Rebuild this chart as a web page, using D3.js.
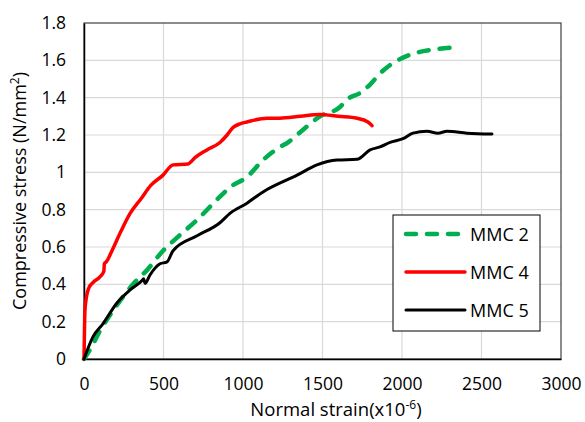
<!DOCTYPE html>
<html>
<head>
<meta charset="utf-8">
<script src="https://cdn.jsdelivr.net/npm/d3@7"></script>
<style>
  body { margin: 0; background: #fff; }
  text { font-family: "Open Sans", "Liberation Sans", sans-serif; fill: #000; }
</style>
</head>
<body>
<div id="chart"></div>
<script>
// strain (x10^-6), stress (N/mm2)
var mmc2 = [[0,0],[38,0.05],[100,0.15],[200,0.28],[308,0.40],[400,0.48],[497,0.58],[585,0.65],[711,0.745],[855,0.87],[918,0.92],[1025,0.975],[1126,1.066],[1233,1.136],[1277,1.157],[1380,1.23],[1484,1.30],[1610,1.35],[1654,1.39],[1736,1.425],[1799,1.47],[1862,1.53],[1943,1.585],[2069,1.635],[2220,1.66],[2352,1.67]];
var mmc4 = [[0,0],[2,0.1],[4,0.2],[6,0.26],[15,0.33],[30,0.38],[57,0.41],[100,0.44],[125,0.47],[128,0.51],[140,0.52],[176,0.58],[230,0.68],[290,0.78],[360,0.86],[420,0.93],[497,0.985],[560,1.04],[654,1.045],[700,1.08],[773,1.12],[855,1.16],[900,1.2],[937,1.24],[981,1.26],[1025,1.27],[1150,1.29],[1232,1.29],[1360,1.30],[1484,1.31],[1600,1.30],[1717,1.29],[1786,1.27],[1811,1.25]];
var mmc5 = [[0,0],[57,0.12],[120,0.19],[207,0.30],[290,0.37],[365,0.42],[375,0.43],[384,0.405],[415,0.45],[478,0.51],[522,0.52],[560,0.58],[711,0.66],[855,0.73],[918,0.78],[1025,0.835],[1126,0.895],[1340,0.985],[1465,1.04],[1591,1.066],[1717,1.07],[1799,1.12],[1862,1.136],[1925,1.16],[2006,1.18],[2069,1.21],[2157,1.22],[2226,1.21],[2283,1.22],[2409,1.21],[2566,1.205]];

var xTicks = [0,500,1000,1500,2000,2500,3000];
var yTicks = [0,0.2,0.4,0.6,0.8,1,1.2,1.4,1.6,1.8];

var series = [
  {name: "MMC 2", data: mmc2, color: "#00b050", width: 4.5, dash: "10,11"},
  {name: "MMC 4", data: mmc4, color: "#ff0000", width: 3.5, dash: null},
  {name: "MMC 5", data: mmc5, color: "#000000", width: 3, dash: null}
];

var W = 585, H = 422;
var m = {left: 84, top: 23, right: 24, bottom: 63};

var svg = d3.select("#chart").append("svg")
  .attr("width", W).attr("height", H);

var x = d3.scaleLinear().domain([0, 3000]).range([m.left, W - m.right]);
var y = d3.scaleLinear().domain([0, 1.8]).range([H - m.bottom, m.top]);

// gridlines
svg.append("g").selectAll("line.gx")
  .data(xTicks.slice(1, -1)).enter().append("line")
  .attr("x1", d => x(d)).attr("x2", d => x(d))
  .attr("y1", y(0)).attr("y2", y(1.8))
  .attr("stroke", "#d9d9d9").attr("stroke-width", 1.2);
svg.append("g").selectAll("line.gy")
  .data(yTicks.slice(1, -1)).enter().append("line")
  .attr("y1", d => y(d)).attr("y2", d => y(d))
  .attr("x1", x(0)).attr("x2", x(3000))
  .attr("stroke", "#d9d9d9").attr("stroke-width", 1.2);

// plot border
svg.append("rect")
  .attr("x", x(0)).attr("y", y(1.8))
  .attr("width", x(3000) - x(0)).attr("height", y(0) - y(1.8))
  .attr("fill", "none").attr("stroke", "#404040").attr("stroke-width", 1.2);

// axes
var xAxis = svg.append("g").attr("transform", "translate(0," + y(0) + ")")
  .call(d3.axisBottom(x).tickValues(xTicks).tickSize(0).tickPadding(19).tickFormat(d3.format("d")));
var yAxis = svg.append("g").attr("transform", "translate(" + x(0) + ",0)")
  .call(d3.axisLeft(y).tickValues(yTicks).tickSize(0).tickPadding(18).tickFormat(d => d === 0 || d === 1 ? d : d.toFixed(1)));
[xAxis, yAxis].forEach(function(a) {
  a.select(".domain").attr("stroke", "#000").attr("stroke-width", 1.5);
  a.selectAll("text").style("font-size", "17.5px").attr("fill", "#000");
});

// lines
var line = d3.line().x(d => x(d[0])).y(d => y(d[1])).curve(d3.curveMonotoneX);
series.forEach(function(s) {
  svg.append("path").datum(s.data)
    .attr("d", line)
    .attr("fill", "none")
    .attr("stroke", s.color)
    .attr("stroke-width", s.width)
    .attr("stroke-linejoin", "round")
    .attr("stroke-linecap", "round")
    .attr("stroke-dasharray", s.dash);
});

// axis titles
var xt = svg.append("text").attr("x", 336).attr("y", 416)
  .attr("text-anchor", "middle").style("font-size", "18.5px");
xt.append("tspan").text("Normal strain(x10");
xt.append("tspan").attr("dy", -7).style("font-size", "12px").text("-6");
xt.append("tspan").attr("dy", 7).text(")");

var yt = svg.append("text")
  .attr("transform", "translate(26," + y(0.9) + ") rotate(-90)")
  .attr("text-anchor", "middle").style("font-size", "18px");
yt.append("tspan").text("Compressive stress (N/mm");
yt.append("tspan").attr("dy", -7).style("font-size", "12px").text("2");
yt.append("tspan").attr("dy", 7).text(")");

// legend
var lg = svg.append("g").attr("transform", "translate(393,215)");
lg.append("rect").attr("width", 147).attr("height", 116)
  .attr("fill", "#fff").attr("stroke", "#000").attr("stroke-width", 1);
series.forEach(function(s, i) {
  var yy = 19 + i * 38;
  lg.append("line").attr("x1", 13).attr("x2", 72).attr("y1", yy).attr("y2", yy)
    .attr("stroke", s.color).attr("stroke-width", s.width)
    .attr("stroke-linecap", "round")
    .attr("stroke-dasharray", s.dash);
  lg.append("text").attr("x", 77).attr("y", yy + 7)
    .style("font-size", "18px").text(s.name);
});
</script>
</body>
</html>
